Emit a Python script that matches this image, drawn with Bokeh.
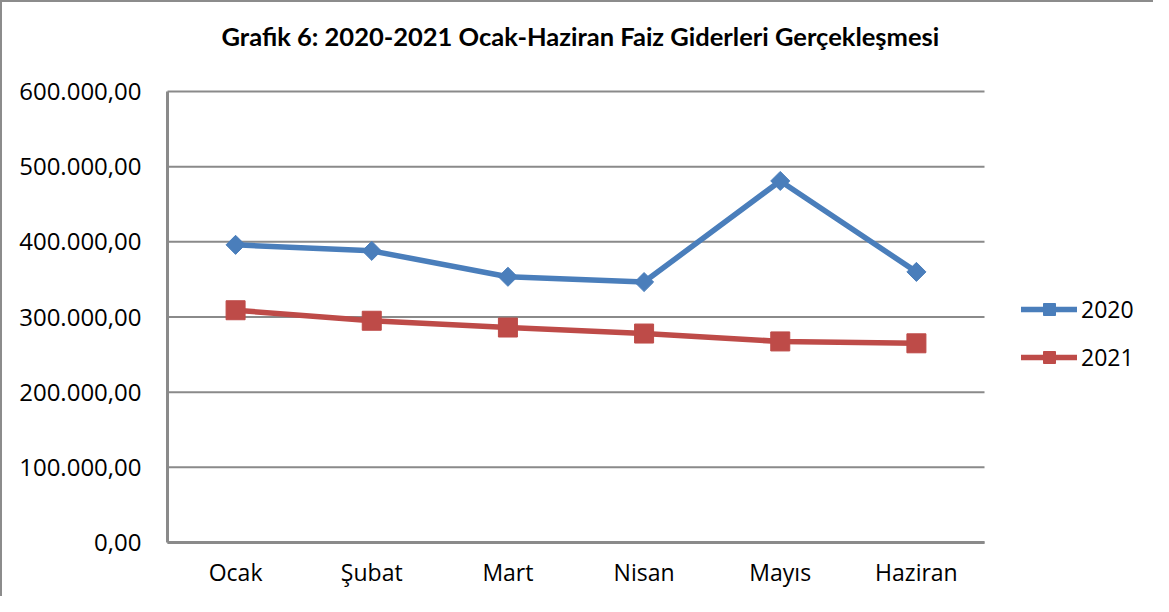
from bokeh.plotting import figure
from bokeh.models import Range1d, FixedTicker, Legend, LegendItem, ColumnDataSource, Title
from bokeh.embed import file_html
from bokeh.resources import INLINE
import math

months = ["Ocak", "Şubat", "Mart", "Nisan", "Mayıs", "Haziran"]
values_2020 = [396000, 388000, 353500, 346500, 481000, 360000]
values_2021 = [309000, 295000, 286000, 278000, 267500, 265000]
y_ticks = [0, 100000, 200000, 300000, 400000, 500000, 600000]
y_tick_labels = ["0,00", "100.000,00", "200.000,00", "300.000,00", "400.000,00", "500.000,00", "600.000,00"]
title_text = "Grafik 6: 2020-2021 Ocak-Haziran Faiz Giderleri Gerçekleşmesi"

BLUE = "#4a7ebb"
RED = "#be4b48"
GRID = "#8a8a8a"

# layout (pixels inside the figure)
W, H = 1153, 596
PA_L, PA_R, PA_T, PA_B = 165, 982, 89, 540   # plot area of the chart
PAD = 2
n = len(months)
xs = list(range(1, n + 1))
y_max = y_ticks[-1]
px_x = (PA_R - PA_L) / n
px_y = (PA_B - PA_T) / y_max

p = figure(
    x_range=Range1d(0.5 - PAD / px_x, 0.5 + (W - PA_L) / px_x),
    y_range=Range1d(-PAD / px_y, y_max + PAD / px_y),
    width=W, height=H,
    min_border_left=PA_L - PAD, min_border_right=0,
    min_border_top=PA_T - PAD, min_border_bottom=H - PA_B - PAD,
    output_backend="svg", toolbar_location=None,
)
p.styles = {"border-top": "2px solid #8c8c8c", "border-left": "2px solid #8c8c8c"}

# spacer below the title, then the title itself
p.add_layout(Title(text=" ", text_font_size="1px", standoff=31), "above")
p.add_layout(Title(text=title_text, text_font="Lato", text_font_style="bold",
                   text_font_size="25.5px", text_color="#000000",
                   align="left", offset=56, vertical_align="bottom", standoff=10), "above")

p.outline_line_color = None
p.background_fill_color = "white"
p.border_fill_color = "white"
p.xgrid.grid_line_color = None
p.ygrid.grid_line_color = None

# gridlines and axis lines limited to the plot area
p.segment(x0=[0.5] * len(y_ticks), x1=[n + 0.5] * len(y_ticks), y0=y_ticks, y1=y_ticks,
          line_color=GRID, line_width=2)
p.segment(x0=[0.5], x1=[0.5], y0=[0], y1=[y_max], line_color=GRID, line_width=3)
p.segment(x0=[0.5], x1=[n + 0.5], y0=[0], y1=[0], line_color=GRID, line_width=3)

p.yaxis.ticker = FixedTicker(ticks=y_ticks)
p.yaxis.major_label_overrides = {t: l for t, l in zip(y_ticks, y_tick_labels)}
p.yaxis.axis_line_color = None
p.yaxis.major_tick_line_color = None
p.yaxis.minor_tick_line_color = None
p.yaxis.major_tick_out = 0
p.yaxis.major_label_standoff = 24
p.yaxis.major_label_text_font = "Open Sans"
p.yaxis.major_label_text_font_size = "24px"
p.yaxis.major_label_text_color = "#000000"

p.xaxis.ticker = FixedTicker(ticks=xs)
p.xaxis.major_label_overrides = {x: m for x, m in zip(xs, months)}
p.xaxis.axis_line_color = None
p.xaxis.major_tick_line_color = None
p.xaxis.minor_tick_line_color = None
p.xaxis.major_tick_out = 0
p.xaxis.major_label_standoff = 11
p.xaxis.major_label_text_font = "Open Sans"
p.xaxis.major_label_text_font_size = "23px"
p.xaxis.major_label_text_color = "#000000"

src = ColumnDataSource(dict(x=xs, v20=values_2020, v21=values_2021))

l20 = p.line("x", "v20", source=src, line_color=BLUE, line_width=5.5,
             line_cap="round", line_join="round")
m20 = p.scatter("x", "v20", source=src, marker="square", size=13.5, angle=math.pi / 4,
                fill_color=BLUE, line_color=BLUE)
l21 = p.line("x", "v21", source=src, line_color=RED, line_width=5.5,
             line_cap="round", line_join="round")
m21 = p.scatter("x", "v21", source=src, marker="square", size=19,
                fill_color=RED, line_color=RED)

legend = Legend(
    items=[LegendItem(label="2020", renderers=[l20, m20]),
           LegendItem(label="2021", renderers=[l21, m21])],
    location=(856, 171),
    margin=0, padding=10, spacing=16,
    glyph_width=56, glyph_height=30, label_height=30, label_standoff=4,
    label_text_font="Open Sans", label_text_font_size="23px", label_text_color="#000000",
    border_line_color=None, background_fill_alpha=0,
)
p.add_layout(legend)

open("out.html", "w").write(file_html(p, INLINE))
